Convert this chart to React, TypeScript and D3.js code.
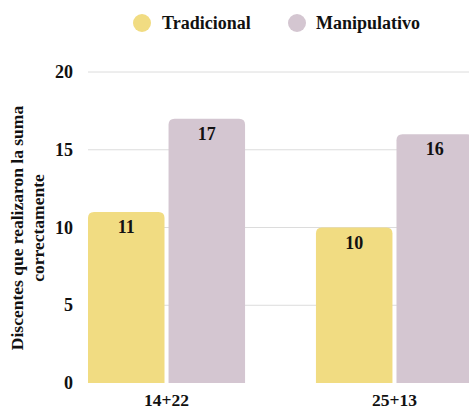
import React from "react";
import * as d3 from "d3";

const categories = ["14+22", "25+13"];
const seriesNames = ["Tradicional", "Manipulativo"];
const tradicional = [11, 10];
const manipulativo = [17, 16];
const yTicks = [0, 5, 10, 15, 20];
const colors = ["#F1DC82", "#D4C6D1"];

const W = 469;
const H = 410;
const font = "'Liberation Serif', 'Times New Roman', serif";

function topRoundedRect(x: number, y: number, w: number, h: number, r: number) {
  const rr = Math.min(r, h, w / 2);
  return `M${x},${y + h}V${y + rr}Q${x},${y} ${x + rr},${y}H${x + w - rr}Q${x + w},${y} ${x + w},${y + rr}V${y + h}Z`;
}

export default function App() {
  const y = d3.scaleLinear().domain([0, 20]).range([383, 72]);
  const x0 = d3.scaleBand().domain(categories).range([88, 473]).paddingInner(0.311).paddingOuter(0);
  const x1 = d3.scaleBand().domain(seriesNames).range([0, x0.bandwidth()]).paddingInner(0.05);
  const values = [tradicional, manipulativo];

  return (
    <svg width={W} height={H} style={{ position: "absolute", left: 0, top: 0, background: "#fff" }}>
      {/* legend */}
      <g fontFamily={font} fontWeight="bold" fontSize={18} fill="#111">
        <circle cx={142} cy={23} r={9} fill={colors[0]} />
        <text x={162} y={29}>{seriesNames[0]}</text>
        <circle cx={297} cy={23} r={9} fill={colors[1]} />
        <text x={316} y={29}>{seriesNames[1]}</text>
      </g>
      {/* gridlines */}
      {yTicks.slice(1).map((t) => (
        <line key={t} x1={88} x2={W} y1={y(t)} y2={y(t)} stroke="#dcdcdc" strokeWidth={1} />
      ))}
      {/* y ticks */}
      <g fontFamily={font} fontWeight="bold" fontSize={18} textAnchor="end" fill="#111">
        {yTicks.map((t) => (
          <text key={t} x={73} y={y(t) + 6}>{t}</text>
        ))}
      </g>
      {/* y axis title */}
      <g fontFamily={font} fontWeight="bold" fontSize={17.5} textAnchor="middle" fill="#111">
        <text transform={`translate(23,228) rotate(-90)`}>Discentes que realizaron la suma</text>
        <text transform={`translate(44,228) rotate(-90)`}>correctamente</text>
      </g>
      {/* bars */}
      {categories.map((c, i) => (
        <g key={c} transform={`translate(${x0(c)},0)`}>
          {seriesNames.map((s, j) => {
            const v = values[j][i];
            const bx = x1(s)!;
            const bw = x1.bandwidth();
            const top = y(v);
            return (
              <g key={s}>
                <path d={topRoundedRect(bx, top, bw, y(0) - top, 6)} fill={colors[j]} />
                <text
                  x={bx + bw / 2}
                  y={top + 21}
                  textAnchor="middle"
                  fontFamily={font}
                  fontWeight="bold"
                  fontSize={18}
                  fill="#111"
                >
                  {v}
                </text>
              </g>
            );
          })}
        </g>
      ))}
      {/* x labels */}
      <g fontFamily={font} fontWeight="bold" fontSize={17.5} textAnchor="middle" fill="#111">
        {categories.map((c) => (
          <text key={c} x={x0(c)! + x0.bandwidth() / 2} y={405.5}>{c}</text>
        ))}
      </g>
    </svg>
  );
}
